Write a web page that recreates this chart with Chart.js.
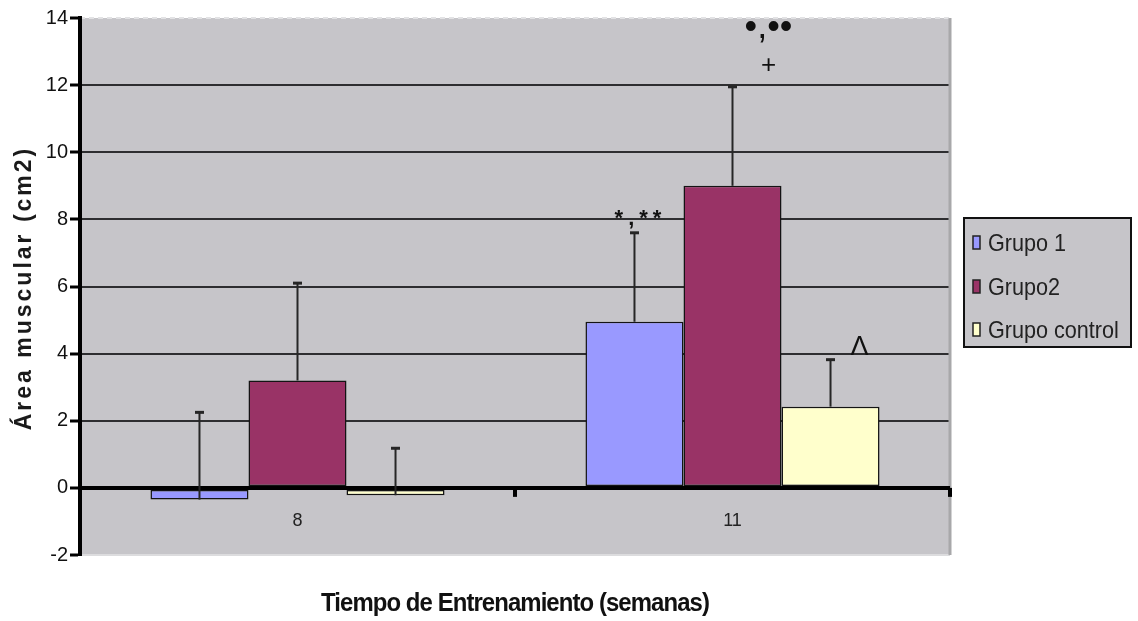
<!DOCTYPE html>
<html>
<head>
<meta charset="utf-8">
<style>
  html, body { margin: 0; padding: 0; background: #ffffff; }
  #wrap { width: 1138px; height: 621px; position: relative; }
</style>
<script src="https://cdn.jsdelivr.net/npm/chart.js@4.4.1/dist/chart.umd.min.js"></script>
</head>
<body>
<div id="wrap"><canvas id="c" width="1138" height="621"></canvas></div>
<script>
// Categories (training weeks) and series
const categories = ['8', '11'];
const seriesNames = ['Grupo 1', 'Grupo2', 'Grupo control'];
const grupo1 = [-0.35, 4.95];
const grupo2 = [3.2, 9.0];
const grupoControl = [-0.22, 2.42];

// Upper error bar lengths (standard deviation)
const errorGrupo1 = [2.6, 2.65];
const errorGrupo2 = [2.9, 2.95];
const errorControl = [1.4, 1.4];

// Significance marks above each bar
const notesGrupo1 = ['', '*,**'];
const notesGrupo2 = ['', '•,••'];
const notesGrupo2Plus = ['', '+'];
const notesControl = ['', 'Λ'];

// Value axis range
const yMin = -2;
const yMax = 14;
const yStep = 2;

const yTitle = 'Área muscular (cm2)';
const xTitle = 'Tiempo de Entrenamiento (semanas)';

const FONT = "'Liberation Sans', Arial, sans-serif";
const PLOT_BG = '#c6c5c9';

// Background of canvas and plot area, plus light frame edges
const plotFrame = {
  id: 'plotFrame',
  beforeDraw(chart) {
    const { ctx, chartArea: a } = chart;
    ctx.save();
    ctx.fillStyle = '#ffffff';
    ctx.fillRect(0, 0, chart.width, chart.height);
    ctx.fillStyle = PLOT_BG;
    ctx.fillRect(a.left, a.top, a.right - a.left, a.bottom - a.top);
    // top edge: light dashed
    ctx.strokeStyle = '#e2e2e4';
    ctx.lineWidth = 2;
    ctx.setLineDash([5, 4]);
    ctx.beginPath();
    ctx.moveTo(a.left, a.top);
    ctx.lineTo(a.right, a.top);
    ctx.stroke();
    ctx.setLineDash([]);
    // bottom edge
    ctx.strokeStyle = '#dcdcde';
    ctx.beginPath();
    ctx.moveTo(a.left, a.bottom);
    ctx.lineTo(a.right, a.bottom);
    ctx.stroke();
    ctx.restore();
  },
  afterDatasetsDraw(chart) {
    const { ctx, chartArea: a } = chart;
    ctx.save();
    // right edge
    ctx.strokeStyle = '#a8a8aa';
    ctx.lineWidth = 3;
    ctx.beginPath();
    ctx.moveTo(a.right, a.top);
    ctx.lineTo(a.right, a.bottom);
    ctx.stroke();
    // category axis at zero, with tick marks between categories and at the end
    const y0 = chart.scales.y.getPixelForValue(0);
    const xs = chart.scales.x;
    ctx.strokeStyle = '#000';
    ctx.lineWidth = 4;
    ctx.beginPath();
    ctx.moveTo(a.left, y0);
    ctx.lineTo(a.right, y0);
    ctx.stroke();
    const marks = [];
    for (let i = 0; i < categories.length - 1; i++) {
      marks.push((xs.getPixelForValue(i) + xs.getPixelForValue(i + 1)) / 2);
    }
    marks.push(a.right);
    ctx.lineWidth = 4;
    marks.forEach(mx => {
      ctx.beginPath();
      ctx.moveTo(mx, y0);
      ctx.lineTo(mx, y0 + 9);
      ctx.stroke();
    });
    ctx.restore();
  }
};

// Upper error bars drawn from each bar's value
const errorBars = {
  id: 'errorBars',
  afterDatasetsDraw(chart) {
    const { ctx } = chart;
    const ys = chart.scales.y;
    ctx.save();
    chart.data.datasets.forEach((ds, di) => {
      const meta = chart.getDatasetMeta(di);
      meta.data.forEach((bar, i) => {
        const v = ds.data[i];
        const e = ds.errorPlus[i];
        const yv = ys.getPixelForValue(v);
        const yt = ys.getPixelForValue(v + e);
        ctx.strokeStyle = '#262626';
        ctx.lineWidth = 2;
        ctx.beginPath();
        ctx.moveTo(bar.x, yv);
        ctx.lineTo(bar.x, yt);
        ctx.stroke();
        ctx.lineWidth = 3;
        ctx.beginPath();
        ctx.moveTo(bar.x - 4.5, yt);
        ctx.lineTo(bar.x + 4.5, yt);
        ctx.stroke();
      });
    });
    ctx.restore();
  }
};

// Significance marks placed relative to the top of each error bar
const sigMarks = {
  id: 'sigMarks',
  afterDatasetsDraw(chart, args, opts) {
    const { ctx } = chart;
    const ys = chart.scales.y;
    ctx.save();
    opts.items.forEach(item => {
      const ds = chart.data.datasets[item.dataset];
      const meta = chart.getDatasetMeta(item.dataset);
      item.texts.forEach((txt, i) => {
        if (!txt) return;
        const bar = meta.data[i];
        const yt = ys.getPixelForValue(ds.data[i] + ds.errorPlus[i]);
        ctx.font = item.font;
        ctx.fillStyle = '#111';
        ctx.textAlign = 'center';
        ctx.textBaseline = 'alphabetic';
        ctx.letterSpacing = item.spacing || '0px';
        ctx.fillText(txt, bar.x + item.dx, yt + item.dy);
      });
    });
    ctx.letterSpacing = '0px';
    ctx.restore();
  }
};

// Axis titles, category labels and the boxed legend
const textLayer = {
  id: 'textLayer',
  afterDraw(chart) {
    const { ctx, chartArea: a } = chart;
    const xs = chart.scales.x;
    const y0 = chart.scales.y.getPixelForValue(0);
    ctx.save();

    // category labels under the zero line
    ctx.font = `18px ${FONT}`;
    ctx.fillStyle = '#222';
    ctx.textAlign = 'center';
    ctx.textBaseline = 'middle';
    categories.forEach((c, i) => {
      ctx.fillText(c, xs.getPixelForValue(i), y0 + 33);
    });

    // value axis title
    ctx.save();
    ctx.translate(25, 288);
    ctx.rotate(-Math.PI / 2);
    ctx.font = `bold 23px ${FONT}`;
    ctx.letterSpacing = '3px';
    ctx.fillStyle = '#1a1a1a';
    ctx.textAlign = 'center';
    ctx.textBaseline = 'middle';
    ctx.fillText(yTitle, 0, 0);
    ctx.letterSpacing = '0px';
    ctx.restore();

    // category axis title (condensed)
    ctx.save();
    ctx.translate((a.left + a.right) / 2, 604);
    ctx.scale(0.92, 1);
    ctx.font = `bold 26px ${FONT}`;
    ctx.letterSpacing = '-1px';
    ctx.fillStyle = '#111';
    ctx.textAlign = 'center';
    ctx.textBaseline = 'middle';
    ctx.fillText(xTitle, 0, 0);
    ctx.letterSpacing = '0px';
    ctx.restore();

    // legend box
    const lx = 964, ly = 218, lw = 167, lh = 129;
    ctx.fillStyle = PLOT_BG;
    ctx.fillRect(lx, ly, lw, lh);
    ctx.strokeStyle = '#111';
    ctx.lineWidth = 2;
    ctx.strokeRect(lx, ly, lw, lh);
    const rows = [243, 287, 330];
    chart.data.datasets.forEach((ds, i) => {
      const ry = rows[i];
      ctx.fillStyle = ds.backgroundColor;
      ctx.fillRect(973, ry - 7, 7, 13);
      ctx.strokeStyle = '#222';
      ctx.lineWidth = 1.5;
      ctx.strokeRect(973, ry - 7, 7, 13);
      ctx.save();
      ctx.translate(988, ry);
      ctx.scale(0.9, 1);
      ctx.font = `24px ${FONT}`;
      ctx.fillStyle = '#222';
      ctx.textAlign = 'left';
      ctx.textBaseline = 'middle';
      ctx.fillText(ds.label, 0, 1);
      ctx.restore();
    });

    ctx.restore();
  }
};

const barStyle = { borderColor: '#141414', borderWidth: 1.5, borderSkipped: false };

new Chart(document.getElementById('c'), {
  type: 'bar',
  data: {
    labels: categories,
    datasets: [
      { label: seriesNames[0], data: grupo1, errorPlus: errorGrupo1, backgroundColor: '#9999ff', ...barStyle },
      { label: seriesNames[1], data: grupo2, errorPlus: errorGrupo2, backgroundColor: '#993366', ...barStyle },
      { label: seriesNames[2], data: grupoControl, errorPlus: errorControl, backgroundColor: '#ffffcc', ...barStyle }
    ]
  },
  options: {
    responsive: false,
    animation: false,
    devicePixelRatio: 1,
    layout: { padding: { left: 0, top: 18, right: 188, bottom: 66 } },
    datasets: { bar: { categoryPercentage: 0.676, barPercentage: 1.0 } },
    plugins: {
      legend: { display: false },
      tooltip: { enabled: false },
      sigMarks: {
        items: [
          { dataset: 0, texts: notesGrupo1, dx: 6, dy: -8, font: `bold 22px ${FONT}`, spacing: '5px' },
          { dataset: 1, texts: notesGrupo2, dx: 36, dy: -49, font: `36px ${FONT}`, spacing: '0px' },
          { dataset: 1, texts: notesGrupo2Plus, dx: 36, dy: -14, font: `26px ${FONT}`, spacing: '0px' },
          { dataset: 2, texts: notesControl, dx: 29, dy: -5, font: `27px ${FONT}`, spacing: '0px' }
        ]
      }
    },
    scales: {
      x: { display: false },
      y: {
        min: yMin,
        max: yMax,
        afterFit(scale) { scale.width = 80; },
        ticks: {
          stepSize: yStep,
          padding: 2,
          color: '#111',
          font: { family: FONT, size: 20 }
        },
        grid: {
          color: (c) => {
            const v = c.tick ? c.tick.value : null;
            if (v === 0) return '#000000';
            if (v === yMin || v === yMax) return 'rgba(0,0,0,0)';
            return '#2e2e30';
          },
          lineWidth: (c) => (c.tick && c.tick.value === 0 ? 4 : 2),
          tickColor: '#000000',
          tickWidth: 3,
          tickLength: 10
        },
        border: { display: true, color: '#000000', width: 4 }
      }
    }
  },
  plugins: [plotFrame, errorBars, sigMarks, textLayer]
});
</script>
</body>
</html>
